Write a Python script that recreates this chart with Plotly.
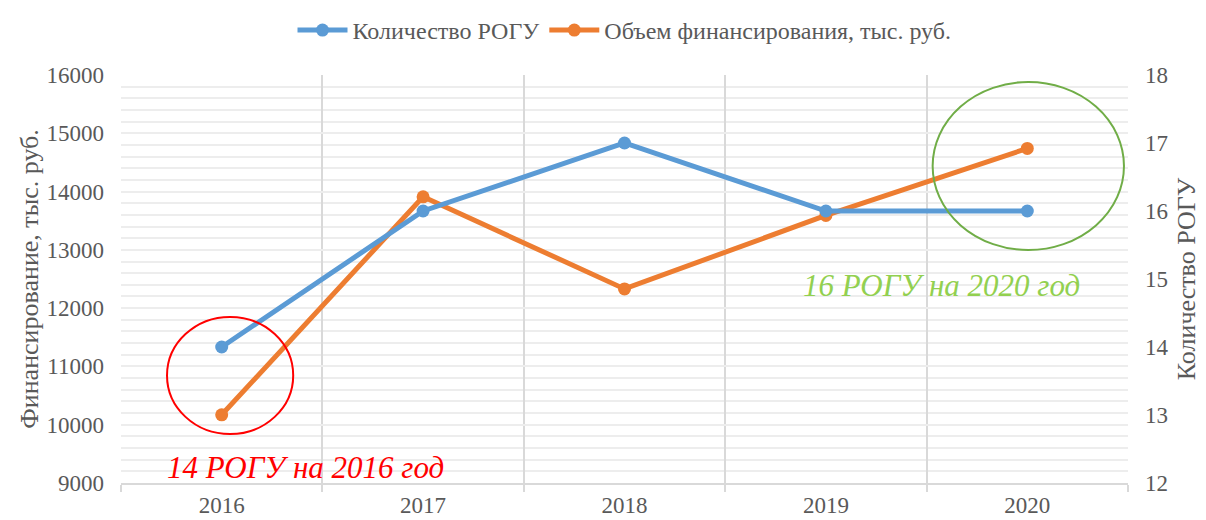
import plotly.graph_objects as go

years = ["2016", "2017", "2018", "2019", "2020"]
rogu_count = [14, 16, 17, 16, 16]
funding = [10170, 13910, 12330, 13590, 14740]

FONT = "Liberation Serif"
GRAY = "#595959"

fig = go.Figure()
fig.add_trace(go.Scatter(
    x=years, y=rogu_count, name="Количество РОГУ", yaxis="y2",
    mode="lines+markers", line=dict(color="#5B9BD5", width=5),
    marker=dict(size=13, color="#5B9BD5")))
fig.add_trace(go.Scatter(
    x=years, y=funding, name="Объем финансирования, тыс. руб.", yaxis="y",
    mode="lines+markers", line=dict(color="#ED7D31", width=5),
    marker=dict(size=13, color="#ED7D31")))

# page body has an 8px margin; figure sized to fit the 1206x520 window
fig.update_layout(
    width=1198, height=512,
    margin=dict(l=113, r=78, t=67, b=37),
    paper_bgcolor="white", plot_bgcolor="white",
    font=dict(family=FONT, color=GRAY, size=22),
    showlegend=True,
    legend=dict(orientation="h", x=0.5, xanchor="center", y=1.0, yanchor="top",
                yref="container", font=dict(size=24, color=GRAY, family=FONT),
                itemwidth=50),
    xaxis=dict(type="category", tickson="boundaries", showgrid=True, automargin=False,
               range=[-0.5, 4.5],
               gridcolor="#D9D9D9", gridwidth=2, ticks="outside", ticklen=7,
               tickcolor="#D9D9D9", tickwidth=2, showline=True, linecolor="#D9D9D9",
               linewidth=2, tickfont=dict(size=23, color=GRAY), zeroline=False),
    yaxis=dict(range=[9000, 16000], dtick=1000, tickformat="d", showgrid=True,
               gridcolor="#EDEDED", automargin=False, ticklabelstandoff=16,
               gridwidth=2, minor=dict(dtick=200, showgrid=True, gridcolor="#EDEDED", gridwidth=2),
               zeroline=False, tickfont=dict(size=23, color=GRAY),
               title=dict(text="Финансирование, тыс. руб.", font=dict(size=26, color=GRAY), standoff=0)),
    yaxis2=dict(range=[12, 18], dtick=1, overlaying="y", side="right", showgrid=False,
                zeroline=False, tickfont=dict(size=23, color=GRAY), automargin=False,
                ticklabelstandoff=16,
                title=dict(text="Количество РОГУ", font=dict(size=26, color=GRAY), standoff=9)),
)

fig.add_shape(type="circle", xref="paper", yref="paper",
              x0=0.0457, x1=0.171, y0=0.120, y1=0.407,
              line=dict(color="#FF0000", width=2))
fig.add_shape(type="circle", xref="paper", yref="paper",
              x0=0.806, x1=0.996, y0=0.571, y1=0.983,
              line=dict(color="#70AD47", width=2))

fig.add_annotation(xref="paper", yref="paper", x=0.183, y=0.039,
                   xanchor="center", yanchor="middle",
                   text="14 РОГУ на 2016 год", showarrow=False,
                   font=dict(family=FONT, size=31, color="#FF0000", style="italic"))
fig.add_annotation(xref="paper", yref="paper", x=0.815, y=0.485,
                   xanchor="center", yanchor="middle",
                   text="16 РОГУ на 2020 год", showarrow=False,
                   font=dict(family=FONT, size=31, color="#92D050", style="italic"))

fig.write_html("out.html")
